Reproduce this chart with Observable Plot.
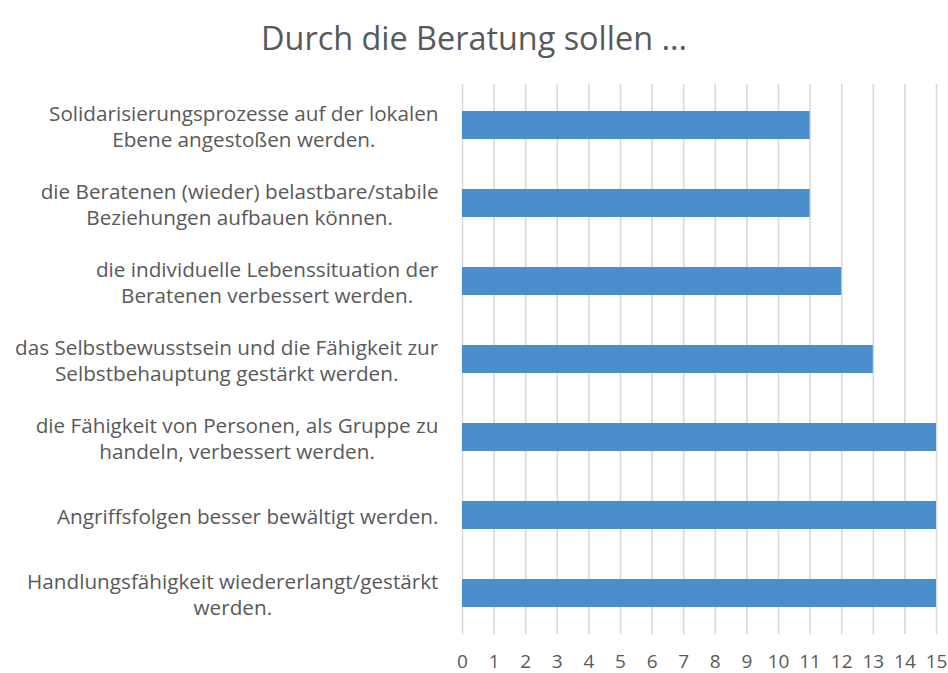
<!DOCTYPE html>
<html>
<head>
<meta charset="utf-8">
<script src="https://cdn.jsdelivr.net/npm/d3@7"></script>
<script src="https://cdn.jsdelivr.net/npm/@observablehq/plot@0.6"></script>
<style>
  body { margin: 0; background: #fff; font-family: "Open Sans", sans-serif; }
  #title { height: 70px; text-align: center; font-size: 32.4px; color: #595959; line-height: 74px; }
</style>
</head>
<body>
<div id="title">Durch die Beratung sollen ...</div>
<div id="chart"></div>
<script>
const categories = [
  "Solidarisierungsprozesse auf der lokalen\nEbene angestoßen werden.",
  "die Beratenen (wieder) belastbare/stabile\nBeziehungen aufbauen können.",
  "die individuelle Lebenssituation der\nBeratenen verbessert werden.",
  "das Selbstbewusstsein und die Fähigkeit zur\nSelbstbehauptung gestärkt werden.",
  "die Fähigkeit von Personen, als Gruppe zu\nhandeln, verbessert werden.",
  "Angriffsfolgen besser bewältigt werden.",
  "Handlungsfähigkeit wiedererlangt/gestärkt\nwerden."
];
const values = [11, 11, 12, 13, 15, 15, 15];
const xTicks = d3.range(0, 16);

const data = categories.map((c, i) => ({label: c, value: values[i]}));

const chart = Plot.plot({
  width: 948,
  height: 603,
  marginTop: 14,
  marginBottom: 39,
  marginLeft: 462,
  marginRight: 12,
  style: {fontFamily: "Open Sans, sans-serif", fontSize: "20.7px", color: "#595959", background: "#fff"},
  x: {domain: [0, 15], ticks: xTicks},
  y: {domain: categories, paddingInner: 0.644, paddingOuter: 0.322},
  marks: [
    Plot.gridX(xTicks, {stroke: "#d9d9d9", strokeOpacity: 1, strokeWidth: 1.6}),
    Plot.barX(data, {x: "value", y: "label", fill: "#4a8fcb"}),
    Plot.axisX({ticks: xTicks, tickSize: 0, tickPadding: 20, label: null, fontSize: 19, tickFormat: d => String(d)}),
    Plot.axisY({tickSize: 0, tickPadding: 24, label: null, lineHeight: 1.26, fontSize: 20.7})
  ]
});
document.getElementById("chart").appendChild(chart);

// center multi-line labels within their own block (right edge fixed)
chart.querySelectorAll('g[aria-label="y-axis tick label"] text').forEach(t => {
  const w = t.getBBox().width;
  t.setAttribute("text-anchor", "middle");
  const tsp = t.querySelectorAll("tspan");
  if (tsp.length) tsp.forEach(s => s.setAttribute("x", -w / 2));
  else t.setAttribute("x", -w / 2);
});
chart.querySelectorAll('g[aria-label="y-axis tick label"]').forEach(g => g.setAttribute("text-anchor", "middle"));
</script>
</body>
</html>
